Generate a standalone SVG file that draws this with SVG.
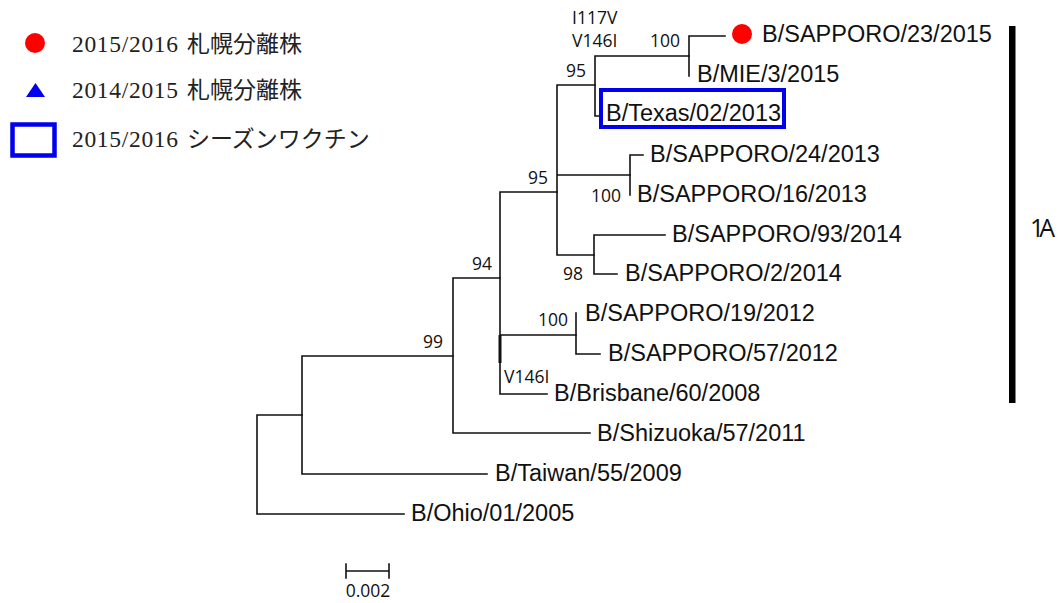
<svg xmlns="http://www.w3.org/2000/svg" width="1058" height="603" viewBox="0 0 1058 603">
<style>
.br{stroke:#111;stroke-width:1.6;fill:none;stroke-linecap:square}
.tx{font-family:"Liberation Sans",Arial,sans-serif;font-size:23.5px;fill:#111}
.bs{font-family:"Open Sans","Noto Sans","DejaVu Sans",sans-serif;font-size:17.5px;fill:#111}
.lg{font-family:"Liberation Serif","Noto Sans CJK JP",serif;font-size:23.5px;fill:#222}
.jp{font-family:"Noto Sans CJK JP",sans-serif;font-size:23px}
</style>
<rect width="1058" height="603" fill="#fff"/>
<g id="legend">
<circle cx="35" cy="43" r="10" fill="#f00"/>
<text class="lg" x="72" y="52"><tspan textLength="106">2015/2016</tspan><tspan class="jp" x="187">札幌分離株</tspan></text>
<polygon points="26,97 45,97 35.5,83" fill="#0000ee"/>
<text class="lg" x="72" y="98"><tspan textLength="106">2014/2015</tspan><tspan class="jp" x="187">札幌分離株</tspan></text>
<rect x="12.5" y="124.5" width="42" height="31" fill="none" stroke="#0000ee" stroke-width="4.5"/>
<text class="lg" x="72" y="147"><tspan textLength="106">2015/2016</tspan><tspan class="jp" x="187">シーズンワクチン</tspan></text>
</g>
<g id="connectors">
<path class="br" d="M257,415V514M257,514H404M257,415H302"/>
<path class="br" d="M302,356V474M302,474H487M302,356H453"/>
<path class="br" d="M453,278V433M453,433H590M453,278H500"/>
<path class="br" d="M500,192V394M500,192H557M500,335H576M500,394H547"/>
<path d="M500,335V363" stroke="#111" stroke-width="3"/>
<path class="br" d="M576,313V354M576,354H600"/>
<path class="br" d="M557,85V255M557,85H595M557,175H630M557,255H594"/>
<path class="br" d="M595,56V116M595,56H689M595,116H600"/>
<path class="br" d="M689,36V76M689,36H725"/>
<path class="br" d="M630,155V195M630,155H643"/>
<path class="br" d="M594,235V274M594,235H665M594,274H617"/>
</g>
<g id="bootstrap">
<text class="bs" x="443" y="348" text-anchor="end">99</text>
<text class="bs" x="492" y="270" text-anchor="end">94</text>
<text class="bs" x="548" y="184" text-anchor="end">95</text>
<text class="bs" x="621" y="202" text-anchor="end">100</text>
<text class="bs" x="583" y="280" text-anchor="end">98</text>
<text class="bs" x="586" y="77" text-anchor="end">95</text>
<text class="bs" x="680" y="47" text-anchor="end">100</text>
<text class="bs" x="568" y="326" text-anchor="end">100</text>
<text class="bs" x="572" y="24">I117V</text>
<text class="bs" x="572" y="47">V146I</text>
<text class="bs" x="504" y="383">V146I</text>
</g>
<g id="n-sap23"><circle cx="742" cy="34" r="10" fill="#f00"/><text class="tx" x="762" y="42">B/SAPPORO/23/2015</text></g>
<g id="n-mie"><text class="tx" x="697" y="82">B/MIE/3/2015</text></g>
<g id="n-texas"><rect x="601" y="90" width="183" height="37" fill="none" stroke="#0000ee" stroke-width="4"/><text class="tx" x="606" y="121">B/Texas/02/2013</text></g>
<g id="n-sap24"><text class="tx" x="650" y="162">B/SAPPORO/24/2013</text></g>
<g id="n-sap16"><text class="tx" x="637" y="202">B/SAPPORO/16/2013</text></g>
<g id="n-sap93"><text class="tx" x="672" y="242">B/SAPPORO/93/2014</text></g>
<g id="n-sap2"><text class="tx" x="625" y="281">B/SAPPORO/2/2014</text></g>
<g id="n-sap19"><text class="tx" x="585" y="321">B/SAPPORO/19/2012</text></g>
<g id="n-sap57"><text class="tx" x="608" y="361">B/SAPPORO/57/2012</text></g>
<g id="n-brisbane"><text class="tx" x="554" y="401">B/Brisbane/60/2008</text></g>
<g id="n-shizuoka"><text class="tx" x="597" y="441">B/Shizuoka/57/2011</text></g>
<g id="n-taiwan"><text class="tx" x="495" y="481">B/Taiwan/55/2009</text></g>
<g id="n-ohio"><text class="tx" x="411" y="521">B/Ohio/01/2005</text></g>
<g id="clade">
<rect x="1009" y="26" width="6.5" height="377" fill="#000"/>
<text x="1030" y="237" font-family="'Open Sans','Noto Sans',sans-serif" font-size="25" textLength="25" fill="#111">1A</text>
</g>
<g id="scale">
<path class="br" d="M346,571H389M346,564V578M389,564V578"/>
<text class="bs" x="368" y="597" text-anchor="middle">0.002</text>
</g>
</svg>
